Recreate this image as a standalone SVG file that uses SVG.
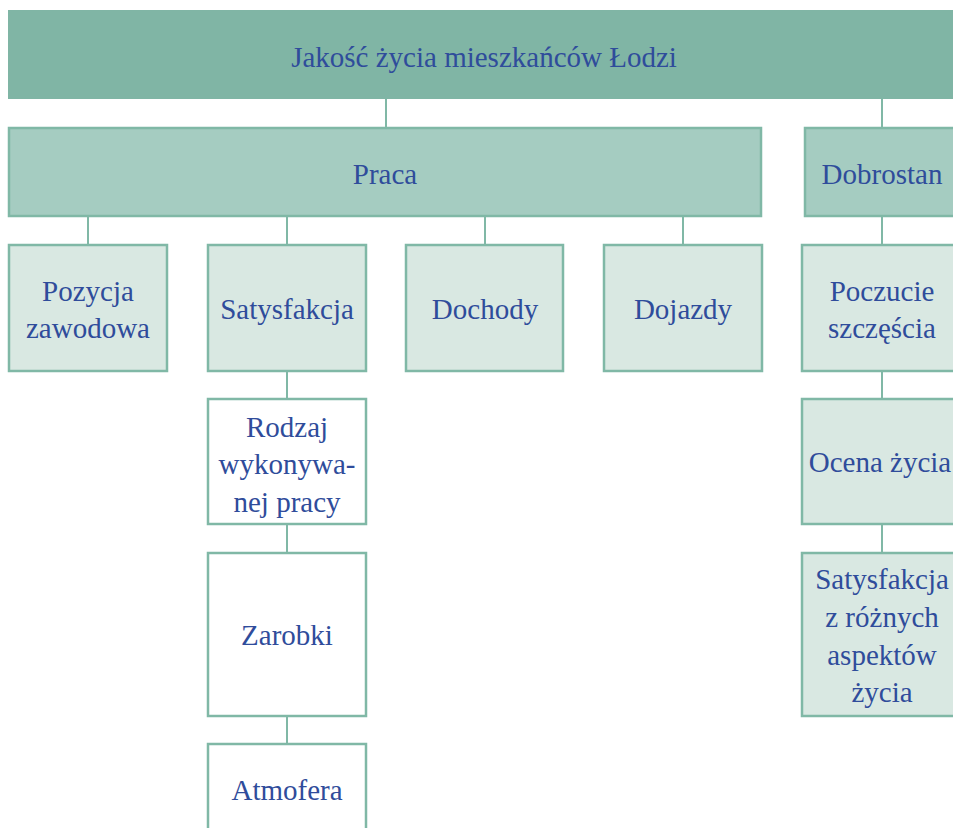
<svg xmlns="http://www.w3.org/2000/svg" width="953" height="828" viewBox="0 0 953 828">
<style>
text{font-family:"Liberation Serif","DejaVu Serif",serif;font-size:29px;fill:#2F4C9B;text-anchor:middle}
.l1{fill:#80B5A5}
.l2{fill:#A5CCC1;stroke:#80B8A6;stroke-width:2.5}
.l3{fill:#D9E8E2;stroke:#80B8A6;stroke-width:2.5}
.l4{fill:#FFFFFF;stroke:#80B8A6;stroke-width:2.5}
#connectors line{stroke:#80B8A6;stroke-width:2}
</style>
<rect width="953" height="828" fill="#FFFFFF"/>
<g id="connectors">
<line x1="386" y1="99" x2="386" y2="127"/>
<line x1="882" y1="99" x2="882" y2="127"/>
<line x1="88" y1="216" x2="88" y2="244"/>
<line x1="287" y1="216" x2="287" y2="244"/>
<line x1="485" y1="216" x2="485" y2="244"/>
<line x1="683" y1="216" x2="683" y2="244"/>
<line x1="882" y1="216" x2="882" y2="244"/>
<line x1="287" y1="371" x2="287" y2="399"/>
<line x1="287" y1="524" x2="287" y2="553"/>
<line x1="287" y1="716" x2="287" y2="744"/>
<line x1="882" y1="371" x2="882" y2="399"/>
<line x1="882" y1="524" x2="882" y2="553"/>
</g>
<g id="root"><rect class="l1" x="8" y="10" width="960" height="89"/><text x="484" y="67">Jakość życia mieszkańców Łodzi</text></g>
<g id="praca"><rect class="l2" x="9" y="128" width="752" height="88"/><text x="385" y="184">Praca</text></g>
<g id="dobrostan"><rect class="l2" x="805" y="128" width="160" height="88"/><text x="882" y="184">Dobrostan</text></g>
<g id="pozycja"><rect class="l3" x="9" y="245" width="158" height="126"/><text x="88" y="301">Pozycja</text><text x="88" y="338">zawodowa</text></g>
<g id="satysfakcja"><rect class="l3" x="208" y="245" width="158" height="126"/><text x="287" y="319">Satysfakcja</text></g>
<g id="dochody"><rect class="l3" x="406" y="245" width="157" height="126"/><text x="485" y="319">Dochody</text></g>
<g id="dojazdy"><rect class="l3" x="604" y="245" width="158" height="126"/><text x="683" y="319">Dojazdy</text></g>
<g id="poczucie"><rect class="l3" x="802" y="245" width="160" height="126"/><text x="882" y="301">Poczucie</text><text x="882" y="338">szczęścia</text></g>
<g id="rodzaj"><rect class="l4" x="208" y="399" width="158" height="125"/><text x="287" y="437">Rodzaj</text><text x="287" y="474">wykonywa-</text><text x="287" y="512">nej pracy</text></g>
<g id="zarobki"><rect class="l4" x="208" y="553" width="158" height="163"/><text x="287" y="645">Zarobki</text></g>
<g id="atmofera"><rect class="l4" x="208" y="744" width="158" height="100"/><text x="287" y="800">Atmofera</text></g>
<g id="ocena"><rect class="l3" x="802" y="399" width="160" height="125"/><text x="880" y="472">Ocena życia</text></g>
<g id="satysfakcja2"><rect class="l3" x="802" y="553" width="160" height="163"/><text x="882" y="589">Satysfakcja</text><text x="882" y="627">z różnych</text><text x="882" y="665">aspektów</text><text x="882" y="702">życia</text></g>
</svg>
